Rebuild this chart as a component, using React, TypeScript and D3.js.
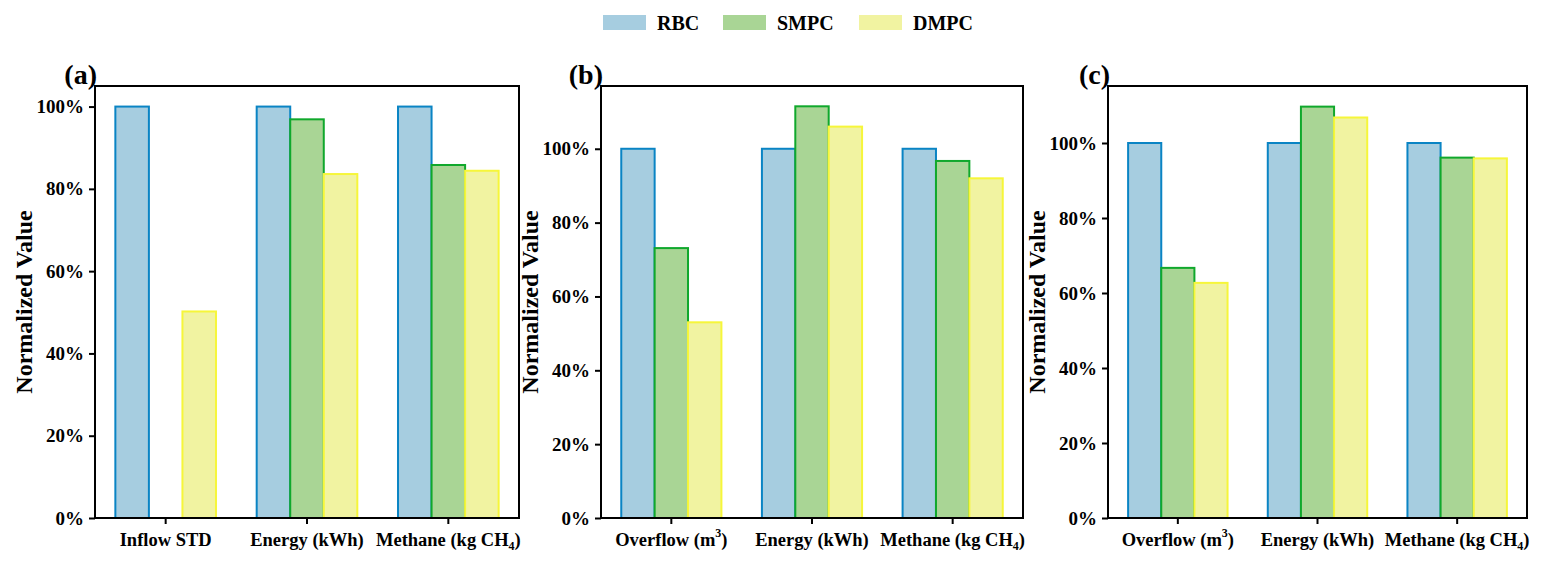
import React, { useEffect, useRef } from 'react';
import * as d3 from 'd3';

// series + colours
const seriesNames = ['RBC', 'SMPC', 'DMPC'];
const fillColors = ['#a6cde0', '#a9d595', '#f1f3a1'];
const strokeColors = ['#0a84c4', '#10a82c', '#f6f63a'];

// categories ( ^ = superscript, _ = subscript )
const catsA = ['Inflow STD', 'Energy (kWh)', 'Methane (kg CH_4)'];
const catsB = ['Overflow (m^3)', 'Energy (kWh)', 'Methane (kg CH_4)'];
const catsC = ['Overflow (m^3)', 'Energy (kWh)', 'Methane (kg CH_4)'];

// normalized values
const rbcA = [1.0, 1.0, 1.0];
const smpcA = [null, 0.969, 0.858];
const dmpcA = [0.502, 0.836, 0.844];

const rbcB = [1.0, 1.0, 1.0];
const smpcB = [0.731, 1.115, 0.967];
const dmpcB = [0.53, 1.06, 0.92];

const rbcC = [1.0, 1.0, 1.0];
const smpcC = [0.667, 1.097, 0.961];
const dmpcC = [0.627, 1.068, 0.959];

const yTicks = [0, 0.2, 0.4, 0.6, 0.8, 1.0];

const panels = [
  { label: '(a)', cats: catsA, vals: [rbcA, smpcA, dmpcA], ymax: 1.05, l: 95, r: 519 },
  { label: '(b)', cats: catsB, vals: [rbcB, smpcB, dmpcB], ymax: 1.17, l: 601, r: 1023 },
  { label: '(c)', cats: catsC, vals: [rbcC, smpcC, dmpcC], ymax: 1.152, l: 1108, r: 1527 }
];

const width = 1546;
const height = 563;
const top = 86;
const bottom = 518;
const font = '"Liberation Serif", "Times New Roman", serif';

const addLabel = (sel, str) => {
  const m = str.match(/^(.*?)([\^_])(\w)(.*)$/);
  if (!m) {
    sel.text(str);
    return;
  }
  sel.append('tspan').text(m[1]);
  sel
    .append('tspan')
    .attr('font-size', 12)
    .attr('dy', m[2] === '^' ? -9 : 4)
    .text(m[3]);
  sel
    .append('tspan')
    .attr('dy', m[2] === '^' ? 9 : -4)
    .text(m[4]);
};

const App = () => {
  const container = useRef(null);

  useEffect(() => {
    const svg = d3.select(container.current);
    svg.selectAll('*').remove();
    svg.attr('font-family', font).attr('font-weight', 'bold');

    // legend
    const legX = [603, 723, 859];
    const leg = svg
      .selectAll('.leg')
      .data(seriesNames)
      .join('g')
      .attr('class', 'leg')
      .attr('transform', (d, i) => `translate(${legX[i]},15)`);
    leg
      .append('rect')
      .attr('width', 43)
      .attr('height', 15)
      .attr('fill', (d, i) => fillColors[i]);
    leg
      .append('text')
      .attr('x', 54)
      .attr('y', 14.5)
      .attr('font-size', 20)
      .text(d => d);

    panels.forEach(p => {
      const g = svg.append('g');
      const x0 = d3.scaleBand().domain(p.cats).range([p.l, p.r]).padding(0);
      const bw = x0.bandwidth();
      const gw = bw * 0.712;
      const x1 = d3
        .scaleBand()
        .domain(seriesNames)
        .range([(bw - gw) / 2, (bw + gw) / 2]);
      const y = d3.scaleLinear().domain([0, p.ymax]).range([bottom, top]);

      const rows = [];
      p.cats.forEach((c, ci) => {
        seriesNames.forEach((s, si) => {
          const v = p.vals[si][ci];
          if (v != null) rows.push({ c, s, si, v });
        });
      });

      g.selectAll('.bar')
        .data(rows)
        .join('rect')
        .attr('class', 'bar')
        .attr('x', d => x0(d.c) + x1(d.s))
        .attr('y', d => y(d.v))
        .attr('width', x1.bandwidth())
        .attr('height', d => bottom - y(d.v))
        .attr('fill', d => fillColors[d.si])
        .attr('stroke', d => strokeColors[d.si])
        .attr('stroke-width', 2);

      // frame
      g.append('rect')
        .attr('x', p.l)
        .attr('y', top)
        .attr('width', p.r - p.l)
        .attr('height', bottom - top)
        .attr('fill', 'none')
        .attr('stroke', '#000')
        .attr('stroke-width', 2);

      const yAxis = d3
        .axisLeft(y)
        .tickValues(yTicks)
        .tickSize(6)
        .tickPadding(5)
        .tickFormat(d3.format('.0%'));
      const ya = g.append('g').attr('transform', `translate(${p.l},0)`).call(yAxis);
      ya.select('.domain').remove();
      ya.selectAll('line').attr('stroke', '#000').attr('stroke-width', 2);
      ya.selectAll('text')
        .attr('font-family', font)
        .attr('font-weight', 'bold')
        .attr('font-size', 19)
        .attr('fill', '#000');

      const xAxis = d3.axisBottom(x0).tickSize(6).tickFormat(() => '');
      const xa = g.append('g').attr('transform', `translate(0,${bottom})`).call(xAxis);
      xa.select('.domain').remove();
      xa.selectAll('line').attr('stroke', '#000').attr('stroke-width', 2);

      p.cats.forEach(c => {
        const t = g
          .append('text')
          .attr('x', x0(c) + bw / 2)
          .attr('y', 546)
          .attr('text-anchor', 'middle')
          .attr('font-size', 18.5);
        addLabel(t, c);
      });

      g.append('text')
        .attr('transform', `translate(${p.l - 63},${(top + bottom) / 2}) rotate(-90)`)
        .attr('text-anchor', 'middle')
        .attr('font-size', 24)
        .text('Normalized Value');

      g.append('text')
        .attr('x', p.l + 2)
        .attr('y', 84)
        .attr('text-anchor', 'end')
        .attr('font-size', 28)
        .text(p.label);
    });
  }, []);

  return (
    <svg
      ref={container}
      width={width}
      height={height}
      style={{ position: 'absolute', left: 0, top: 0, background: '#fff' }}
    />
  );
};

export default App;
